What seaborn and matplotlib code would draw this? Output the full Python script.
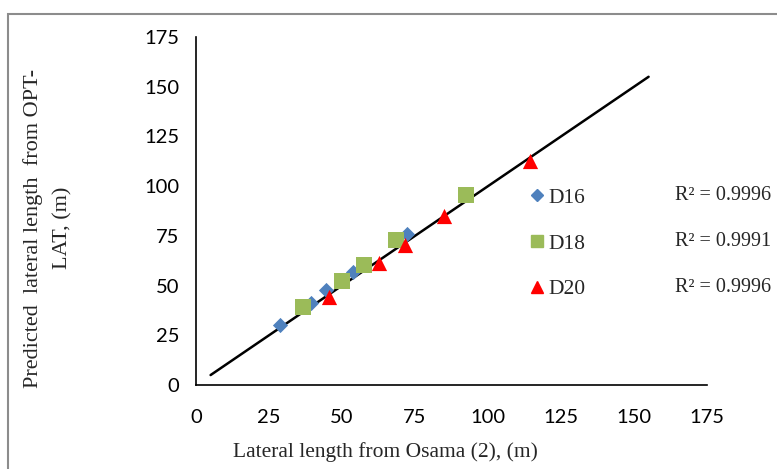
import matplotlib
matplotlib.use("Agg")
import matplotlib.pyplot as plt
import seaborn as sns
import pandas as pd
from matplotlib.patches import Rectangle
from matplotlib.lines import Line2D

# Lateral length from Osama (2) vs. predicted lateral length from OPT-LAT
d16_x = [28.6, 39.4, 44.5, 53.6, 72.3]
d16_y = [30.2, 41.1, 47.8, 56.7, 75.9]
d18_x = [36.6, 50.0, 57.7, 68.6, 92.3]
d18_y = [39.1, 52.4, 60.5, 73.0, 95.5]
d20_x = [45.6, 62.6, 71.5, 85.1, 114.4]
d20_y = [44.4, 61.5, 70.4, 85.1, 112.5]

# 1:1 reference line
line_x = [5, 155]
line_y = [5, 155]

series = ["D16", "D18", "D20"]
r2_labels = ["R\u00b2 = 0.9996", "R\u00b2 = 0.9991", "R\u00b2 = 0.9996"]
ticks = [0, 25, 50, 75, 100, 125, 150, 175]

colors = {"D16": "#4F81BD", "D18": "#9BBB59", "D20": "#FF0000"}
markers = {"D16": "D", "D18": "s", "D20": "^"}
sizes = {"D16": 60, "D18": 140, "D20": 120}

df = pd.concat([
    pd.DataFrame({"x": d16_x, "y": d16_y, "set": "D16"}),
    pd.DataFrame({"x": d18_x, "y": d18_y, "set": "D18"}),
    pd.DataFrame({"x": d20_x, "y": d20_y, "set": "D20"}),
])
line_df = pd.DataFrame({"x": line_x, "y": line_y})

sns.set_style("white")
plt.rcParams["font.family"] = ["Lato", "DejaVu Sans"]

fig = plt.figure(figsize=(7.77, 4.69), dpi=100)
ax = fig.add_axes([196 / 777, 1 - 385 / 469, (707 - 196) / 777, (385 - 37) / 469])

# outer chart frame
fig.patches.append(Rectangle((8 / 777, -0.05), 1.0, 1 - 14 / 469 + 0.05,
                             transform=fig.transFigure, fill=False,
                             edgecolor="#8c8c8c", linewidth=1.5))

sns.lineplot(data=line_df, x="x", y="y", color="black", linewidth=1.8, ax=ax,
             legend=False)
for name in series:
    sub = df[df["set"] == name]
    sns.scatterplot(data=sub, x="x", y="y", color=colors[name],
                    marker=markers[name], s=sizes[name], linewidth=0,
                    ax=ax, legend=False, zorder=3)

ax.set_xlim(0, 175)
ax.set_ylim(0, 175)
ax.set_xticks(ticks)
ax.set_yticks(ticks)
ax.tick_params(axis="both", direction="out", length=6, width=1, color="black",
               labelsize=14.5, labelcolor="black", pad=6)
ax.tick_params(axis="x", pad=11)
for side in ["top", "right"]:
    ax.spines[side].set_visible(False)
for side in ["left", "bottom"]:
    ax.spines[side].set_color("black")
    ax.spines[side].set_linewidth(1.2)

serif = ["Liberation Serif", "DejaVu Serif"]
ax.set_xlabel("")
ax.set_ylabel("")
fig.text(385 / 777, 1 - 452 / 469, "Lateral length from Osama (2), (m)",
         ha="center", va="center", fontsize=15.5, family=serif)
fig.text(33 / 777, 1 - 228 / 469, "Predicted  lateral length  from OPT-",
         rotation=90, ha="center", va="center", fontsize=16, family=serif)
fig.text(63 / 777, 1 - 228 / 469, "LAT, (m)",
         rotation=90, ha="center", va="center", fontsize=16, family=serif)

handles = [Line2D([], [], linestyle="none", marker=markers[n], color=colors[n],
                  markersize=ms) for n, ms in zip(series, [6, 8, 8])]
leg = ax.legend(handles, series, loc="upper left",
                bbox_to_anchor=((522 - 196) / (707 - 196), (385 - 179) / 348),
                frameon=False, handlelength=0.6, handletextpad=0.25,
                labelspacing=1.2, borderaxespad=0, prop={"family": serif, "size": 15.5})

for i, txt in enumerate(r2_labels):
    fig.text(675 / 777, 1 - (195 + 46 * i) / 469, txt, ha="left", va="center",
             fontsize=14.5, family=serif)

fig.savefig("out.png", dpi=100)
